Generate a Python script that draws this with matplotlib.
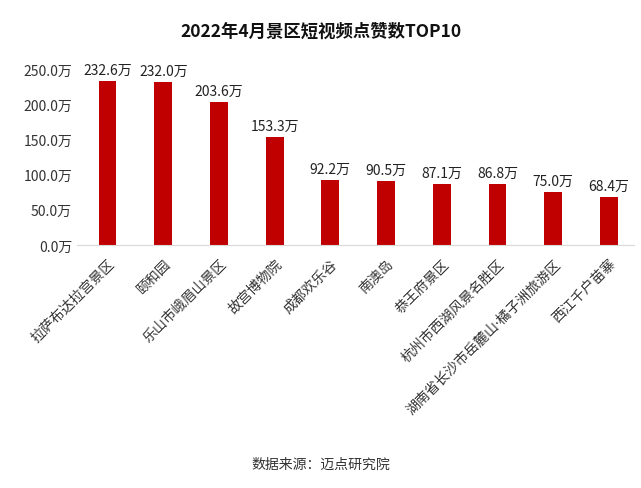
import matplotlib.pyplot as plt

plt.rcParams['font.family'] = ['Noto Sans CJK SC', 'DejaVu Sans']

# scenic spots and likes (unit: 万)
spots = ['拉萨布达拉宫景区', '颐和园', '乐山市峨眉山景区', '故宫博物院', '成都欢乐谷',
         '南澳岛', '恭王府景区', '杭州市西湖风景名胜区', '湖南省长沙市岳麓山·橘子洲旅游区', '西江千户苗寨']
likes = [232.6, 232.0, 203.6, 153.3, 92.2, 90.5, 87.1, 86.8, 75.0, 68.4]
yticks = [0, 50, 100, 150, 200, 250]

fig = plt.figure(figsize=(6.41, 4.89), dpi=100)
ax = fig.add_axes([0.12, 0.497, 0.869, 0.36])

x = range(len(spots))
bars = ax.bar(x, likes, width=0.32, color='#C00000')

for b, v in zip(bars, likes):
    ax.text(b.get_x() + b.get_width() / 2, v + 6, f'{v:.1f}万',
            ha='center', va='bottom', fontsize=10, color='#222222', clip_on=False)

ax.set_xlim(-0.55, 9.45)
ax.set_ylim(0, 250)
ax.set_yticks(yticks)
ax.set_yticklabels([f'{t:.1f}万' for t in yticks], fontsize=10, color='#333333')
ax.set_xticks(list(x))
ax.set_xticklabels(spots, rotation=45, ha='right', rotation_mode='anchor',
                   fontsize=10, color='#333333')
ax.tick_params(axis='both', length=0)
ax.tick_params(axis='x', pad=8)

# narrow middle dot in the long label
for lab in ax.get_xticklabels():
    if '·' in lab.get_text():
        lab.set_fontfamily(['Noto Sans', 'Noto Sans CJK SC'])

for s in ['top', 'right', 'left']:
    ax.spines[s].set_visible(False)
ax.spines['bottom'].set_color('#d9d9d9')

fig.text(0.5, 0.935, '2022年4月景区短视频点赞数TOP10', ha='center', va='center',
         fontsize=12.5, fontweight='bold', color='#111111')
fig.text(0.5, 0.05, '数据来源：迈点研究院', ha='center', va='center',
         fontsize=10, color='#333333')

plt.savefig('out.png', dpi=100)
